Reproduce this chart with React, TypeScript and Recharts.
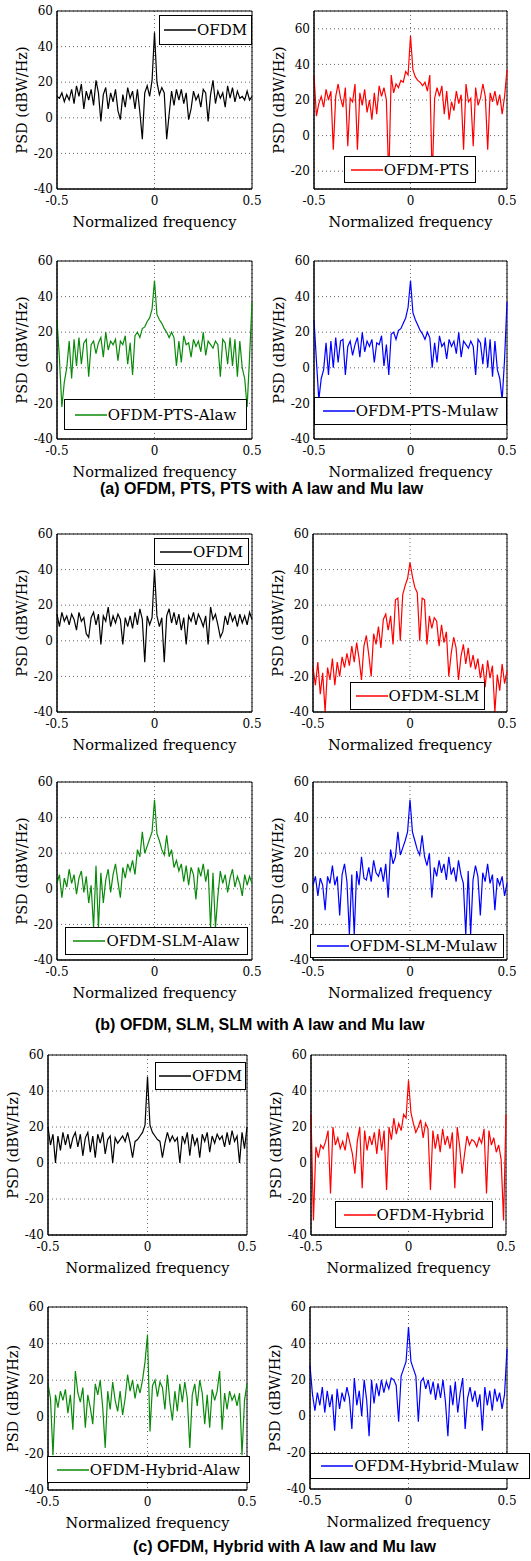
import { CartesianGrid, Legend, Line, LineChart, ReferenceArea, XAxis, YAxis } from "recharts";

// normalized frequency grid shared by every panel
const freq = [
  -0.5, -0.4875, -0.475, -0.4625, -0.45, -0.4375, -0.425, -0.4125, -0.4, -0.3875,
  -0.375, -0.3625, -0.35, -0.3375, -0.325, -0.3125, -0.3, -0.2875, -0.275, -0.2625,
  -0.25, -0.2375, -0.225, -0.2125, -0.2, -0.1875, -0.175, -0.1625, -0.15, -0.1375,
  -0.125, -0.1125, -0.1, -0.0875, -0.075, -0.0625, -0.05, -0.0375, -0.025, -0.0125,
  0, 0.0125, 0.025, 0.0375, 0.05, 0.0625, 0.075, 0.0875, 0.1, 0.1125,
  0.125, 0.1375, 0.15, 0.1625, 0.175, 0.1875, 0.2, 0.2125, 0.225, 0.2375,
  0.25, 0.2625, 0.275, 0.2875, 0.3, 0.3125, 0.325, 0.3375, 0.35, 0.3625,
  0.375, 0.3875, 0.4, 0.4125, 0.425, 0.4375, 0.45, 0.4625, 0.475, 0.4875,
  0.5,
];

// (a) OFDM, PTS, PTS with A law and Mu law
const ofdmA = [
  12, 11, 14, 9, 13, 10, 16, 8, 18, 12,
  19, 5, 15, 10, 16, 7, 21, 14, -2, 13,
  17, 5, 14, 9, 16, 4, -1, 13, 6, 17,
  11, 15, 5, 16, 3, -12, 14, 18, 12, 21,
  48, 20, 13, 17, 14, -12, 2, 15, 7, 16,
  10, 16, 8, 14, -1, 5, 15, 10, 13, 6,
  16, 14, -2, 13, 21, 8, 15, 11, 14, 6,
  18, 11, 17, 9, 15, 11, 12, 10, 15, 10,
  12,
];
const ptsA = [
  34, 11, 18, 22, 16, 26, 20, 25, -8, 22,
  29, 21, 16, 27, -6, 21, 19, 29, -8, 24,
  17, 26, 13, 20, 9, 24, 12, 28, 22, 27,
  20, -25, 34, 24, 29, 27, 31, 30, 36, 34,
  56, 37, 33, 31, 30, 28, 30, 25, 34, -25,
  21, 27, 22, 28, 12, 25, 9, 19, 14, 25,
  18, 23, -8, 29, 19, 21, -6, 27, 17, 21,
  29, 22, -8, 24, 19, 25, 17, 23, 12, 22,
  37,
];
const ptsAlaw = [
  27, 5, -22, -8, 0, 15, -6, 16, 1, 17,
  2, 14, 16, -5, 13, 15, 8, 14, 17, 6,
  20, 10, 15, 13, 16, 4, 15, 13, 18, 2,
  14, -4, 18, 20, 17, 22, 23, 26, 28, 33,
  49, 30, 27, 25, 22, 20, 17, 20, 17, 1,
  15, 3, 18, 13, 14, 6, 16, 12, 15, 9,
  20, 7, 15, 13, 11, 15, 13, -5, 16, 14,
  2, 17, 1, 16, -5, 15, 0, -6, -22, 6,
  37,
];
const ptsMulaw = [
  27, 4, -18, -6, -1, 14, -4, 15, 0, 17,
  3, 15, 16, -4, 12, 15, 7, 13, 17, 6,
  20, 9, 15, 12, 16, 3, 14, 13, 18, 1,
  13, -4, 19, 20, 16, 21, 22, 25, 28, 34,
  49, 31, 27, 24, 21, 19, 16, 20, 17, 0,
  14, 3, 18, 12, 14, 5, 16, 12, 15, 8,
  20, 6, 15, 13, 11, 15, 12, -4, 16, 14,
  2, 17, 0, 16, -5, 15, -1, -6, -18, 5,
  37,
];

// (b) OFDM, SLM, SLM with A law and Mu law
const ofdmB = [
  15, 8, 16, 11, 14, 9, 15, 12, 6, 16,
  11, 13, 4, 2, 13, 16, 9, 15, -2, 14,
  11, 19, 8, 14, 10, 15, 12, -2, 13, 8,
  14, 7, 16, 9, 18, 12, -12, 14, 9, 13,
  40, 14, 8, 13, -12, 14, 18, 10, 16, 9,
  15, 6, 13, -2, 14, 11, 16, 9, 15, 12,
  8, 14, -2, 19, 12, 15, 9, 2, 5, 14,
  9, 16, 11, 14, 8, 15, 10, 14, 9, 16,
  12,
];
const slm = [
  -15, -25, -12, -30, -18, -40, -15, -22, -10, -25,
  -12, -20, -9, -15, -7, -14, -3, -12, -1, -10,
  -22, -3, 3, -8, -20, 4, -2, 8, -4, 12,
  15, 6, 14, -2, 23, 24, 0, 26, 31, 35,
  44, 36, 30, 27, 0, 24, 23, -2, 14, 7,
  13, 11, -3, 9, -1, 5, -20, -7, 2, -4,
  -22, -9, -2, -13, -4, -15, -8, -16, -10, -21,
  -13, -26, -11, -21, -14, -40, -19, -28, -13, -24,
  -17,
];
const slmAlaw = [
  3, 8, -5, 6, 1, 11, 3, 8, -3, 6,
  10, -2, 7, -8, 2, -22, 13, -22, 9, -8,
  5, 11, -2, 8, 14, 4, -5, 12, 6, 14,
  10, 16, 8, 22, 18, 32, 20, 24, 28, 32,
  50, 31, 27, 22, 19, 30, 18, 22, 12, 16,
  10, 14, 4, 13, 2, 12, 8, -6, 12, 7,
  14, 4, 11, -22, 9, -22, -4, 10, 3, 8,
  -2, 6, 11, 1, 7, 3, -4, 8, 2, 7,
  3,
];
const slmMulaw = [
  2, 7, -4, 6, 2, -12, 7, 3, 13, 2,
  7, -15, 8, 14, 4, -26, 8, -26, 10, 2,
  18, 6, 5, 12, 4, 16, 9, 7, 12, 4,
  14, -5, 22, 14, 18, 32, 19, 23, 27, 32,
  50, 32, 27, 22, 19, 30, 18, 13, 20, -5,
  12, 7, 16, 9, 14, 5, 18, 8, 12, 4,
  16, 8, 3, -26, 10, -26, 5, 13, 7, -15,
  9, 4, 14, 3, 8, -12, 6, 2, 7, -4,
  3,
];

// (c) OFDM, Hybrid with A law and Mu law
const ofdmC = [
  20, 10, 16, 0, 15, 7, 17, 10, 16, 8,
  14, 17, 9, 16, 4, 14, 17, 6, 15, 3,
  16, 11, 17, 5, 13, 15, 0, 14, 11, 13,
  15, 12, 17, 11, 3, 12, 13, 15, 17, 21,
  48, 21, 17, 15, 13, 12, 3, 11, 17, 12,
  15, 12, 14, 0, 15, 11, 17, 4, 16, 10,
  14, 3, 16, 12, 17, 6, 15, 11, 16, 13,
  15, 9, 17, 10, 18, 12, 15, 0, 17, 8,
  20,
];
const hybrid = [
  27, -32, 9, 3, 10, 8, 12, 18, -17, 20,
  10, 14, 8, 12, 7, 17, 11, 5, -6, 12,
  20, -14, 18, 7, 15, 10, 17, 5, 19, 7,
  18, -15, 20, 13, 25, 16, 22, 18, 27, 25,
  46, 28, 22, 17, 20, 24, 14, 22, 19, -15,
  18, 8, 16, 6, 19, 10, 15, 8, 17, -14,
  20, 9, -6, 5, 15, 10, 13, 12, 9, 14,
  11, 19, -17, 18, 10, 14, 6, 10, 2, -32,
  27,
];
const hybridAlaw = [
  18, 10, -21, 12, 5, 14, 9, 15, 2, 12,
  -7, 25, 13, 8, 16, -6, 12, 5, -4, 18,
  12, 20, 5, -17, 14, 4, 19, 9, 3, 14,
  1, 10, 23, 14, 20, 10, 18, 13, 20, 30,
  45, -8, 17, 20, 11, 19, 16, 4, 23, 8,
  -2, 14, 3, 18, 8, 19, 10, -17, 12, 18,
  6, 20, 13, -4, 12, -6, 15, 9, 14, 25,
  -7, 13, 4, 14, 9, 12, 6, 13, -21, 9,
  18,
];
const hybridMulaw = [
  28, 12, 3, 13, 6, 16, 2, 14, 5, 12,
  -8, 15, 4, 13, 8, 16, 10, -7, 21, 6,
  14, 0, 20, 9, -11, 20, 7, 18, 11, 20,
  13, 19, 15, 21, 20, 17, -3, 22, 26, 30,
  49, 30, 26, 22, -3, 19, 21, 15, 20, 12,
  19, 9, 18, 10, 20, 8, -11, 17, 6, 19,
  2, 13, 21, -7, 10, 16, 8, 14, 5, 12,
  -8, 16, 6, 14, 3, 15, 8, 13, 4, 12,
  37,
];

const xTicks = [-0.5, 0, 0.5];
const yTicks = [-40, -20, 0, 20, 40, 60];
const yTicksPts = [-20, 0, 20, 40, 60];

const BLACK = "#000000";
const RED = "#ff0000";
const GREEN = "#0a8a0a";
const BLUE = "#0000ff";

// plot box and legend box in page pixels: [left, top, right, bottom]
const panels = [
  { name: "OFDM", values: ofdmA, color: BLACK, box: [57, 11, 252, 189], domain: [-40, 60], ticks: yTicks, legend: [159, 15, 252, 45] },
  { name: "OFDM-PTS", values: ptsA, color: RED, box: [314, 11, 507, 189], domain: [-30, 70], ticks: yTicksPts, legend: [344, 156, 476, 183] },
  { name: "OFDM-PTS-Alaw", values: ptsAlaw, color: GREEN, box: [57, 261, 252, 439], domain: [-40, 60], ticks: yTicks, legend: [64, 399, 247, 430] },
  { name: "OFDM-PTS-Mulaw", values: ptsMulaw, color: BLUE, box: [314, 261, 507, 439], domain: [-40, 60], ticks: yTicks, legend: [314, 397, 507, 425] },
  { name: "OFDM", values: ofdmB, color: BLACK, box: [57, 534, 252, 712], domain: [-40, 60], ticks: yTicks, legend: [154, 538, 249, 565] },
  { name: "OFDM-SLM", values: slm, color: RED, box: [313, 534, 507, 712], domain: [-40, 60], ticks: yTicks, legend: [350, 682, 485, 710] },
  { name: "OFDM-SLM-Alaw", values: slmAlaw, color: GREEN, box: [57, 782, 252, 960], domain: [-40, 60], ticks: yTicks, legend: [65, 927, 248, 955] },
  { name: "OFDM-SLM-Mulaw", values: slmMulaw, color: BLUE, box: [313, 782, 507, 960], domain: [-40, 60], ticks: yTicks, legend: [310, 934, 504, 958] },
  { name: "OFDM", values: ofdmC, color: BLACK, box: [48, 1055, 247, 1235], domain: [-40, 60], ticks: yTicks, legend: [155, 1062, 246, 1090] },
  { name: "OFDM-Hybrid", values: hybrid, color: RED, box: [311, 1055, 506, 1235], domain: [-40, 60], ticks: yTicks, legend: [335, 1201, 493, 1228] },
  { name: "OFDM-Hybrid-Alaw", values: hybridAlaw, color: GREEN, box: [48, 1307, 247, 1490], domain: [-40, 60], ticks: yTicks, legend: [47, 1456, 250, 1483] },
  { name: "OFDM-Hybrid-Mulaw", values: hybridMulaw, color: BLUE, box: [310, 1307, 507, 1489], domain: [-40, 60], ticks: yTicks, legend: [310, 1453, 530, 1479] },
];

const captions = [
  { text: "(a) OFDM, PTS, PTS with A law and Mu law", left: 100, top: 480 },
  { text: "(b) OFDM, SLM, SLM with A law and Mu law", left: 95, top: 1016 },
  { text: "(c) OFDM, Hybrid with A law and Mu law", left: 133, top: 1538 },
];

const SERIF = "'DejaVu Serif', 'Liberation Serif', serif";
const tickStyle = { fill: "#000", fontSize: 12, fontFamily: SERIF };
const titleStyle = { fill: "#000", fontSize: 14.5, fontFamily: SERIF };

const AX_W = 50;
const PAD_T = 10;
const PAD_R = 15;
const AX_H = 45;

function PsdPanel({ p }: { p: (typeof panels)[number] }) {
  const [l, t, r, b] = p.box;
  const [ll, lt, lr, lb] = p.legend;
  const data = freq.map((f, i) => ({ f, psd: p.values[i] }));
  return (
    <div style={{ position: "absolute", left: l - AX_W, top: t - PAD_T }}>
      <LineChart
        width={r - l + AX_W + PAD_R}
        height={b - t + PAD_T + AX_H}
        data={data}
        margin={{ top: PAD_T, right: PAD_R, left: 0, bottom: 0 }}
      >
        <CartesianGrid stroke="#666" strokeDasharray="1 3" />
        <XAxis
          dataKey="f"
          type="number"
          domain={[-0.5, 0.5]}
          ticks={xTicks}
          interval={0}
          height={AX_H}
          tickSize={0}
          tickMargin={7}
          tick={tickStyle}
          axisLine={{ stroke: "#000" }}
          label={{ value: "Normalized frequency", position: "insideBottom", offset: 7, style: titleStyle }}
        />
        <YAxis
          type="number"
          domain={p.domain}
          ticks={p.ticks}
          interval={0}
          allowDataOverflow
          width={AX_W}
          tickSize={0}
          tickMargin={4}
          tick={tickStyle}
          axisLine={{ stroke: "#000" }}
          label={{
            value: "PSD (dBW/Hz)",
            angle: -90,
            position: "insideLeft",
            offset: 15,
            style: { ...titleStyle, textAnchor: "middle" },
          }}
        />
        <Line
          type="linear"
          dataKey="psd"
          stroke={p.color}
          strokeWidth={1.2}
          dot={false}
          isAnimationActive={false}
        />
        <ReferenceArea x1={-0.5} x2={0.5} y1={p.domain[0]} y2={p.domain[1]} fill="none" stroke="#000" strokeOpacity={1} />
        <Legend
          layout="horizontal"
          verticalAlign="middle"
          align="center"
          wrapperStyle={{ left: ll - l + AX_W, top: lt - t + PAD_T, width: lr - ll, height: lb - lt }}
          content={() => (
            <div
              style={{
                boxSizing: "border-box",
                width: lr - ll,
                height: lb - lt,
                border: "1.5px solid #000",
                background: "#fff",
                display: "flex",
                alignItems: "center",
                justifyContent: "center",
                fontFamily: SERIF,
                fontSize: 15,
                color: "#000",
                whiteSpace: "nowrap",
              }}
            >
              <svg width={32} height={10} style={{ marginRight: 1 }}>
                <line x1={0} y1={5} x2={32} y2={5} stroke={p.color} strokeWidth={1.5} />
              </svg>
              <span>{p.name}</span>
            </div>
          )}
        />
      </LineChart>
    </div>
  );
}

export default function App() {
  return (
    <div style={{ position: "absolute", left: 0, top: 0, width: 531, height: 1561, background: "#fff" }}>
      {panels.map((p, i) => (
        <PsdPanel key={i} p={p} />
      ))}
      {captions.map((c) => (
        <div
          key={c.text}
          style={{
            position: "absolute",
            left: c.left,
            top: c.top,
            fontFamily: "'Liberation Sans', Arial, sans-serif",
            fontWeight: "bold",
            fontSize: 16,
            lineHeight: "18px",
            whiteSpace: "nowrap",
            color: "#000",
          }}
        >
          {c.text}
        </div>
      ))}
    </div>
  );
}
